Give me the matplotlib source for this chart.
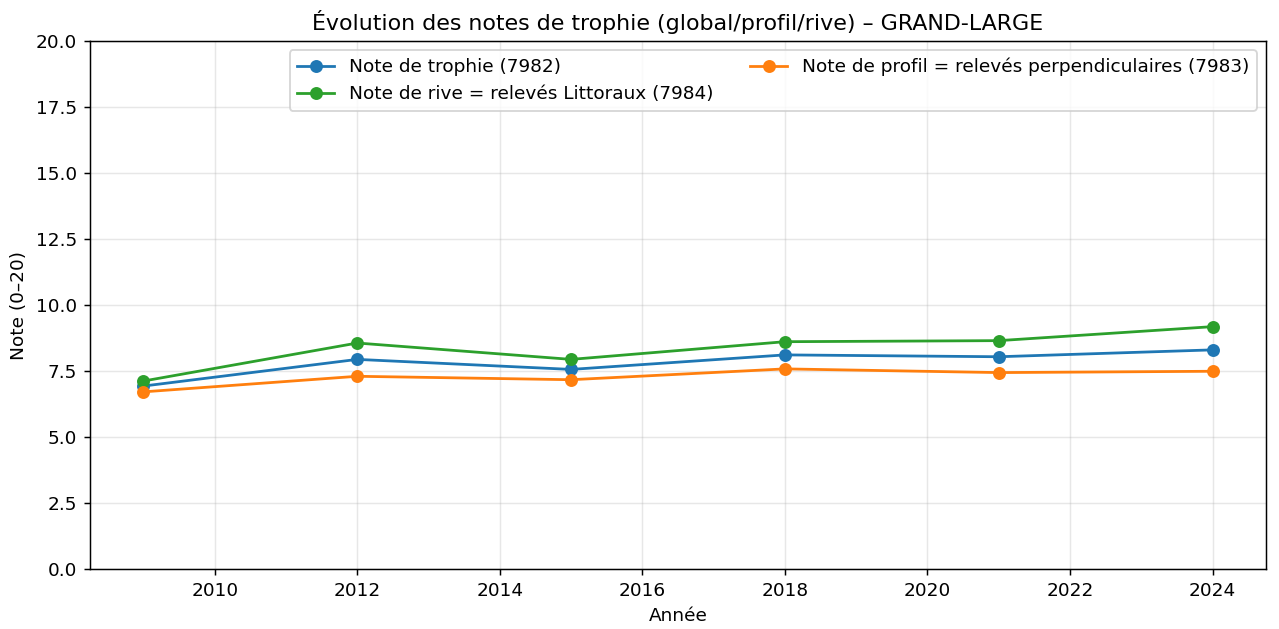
import matplotlib
matplotlib.use('Agg')
import matplotlib.pyplot as plt

years = [2009, 2012, 2015, 2018, 2021, 2024]
note_trophie = [6.93, 7.94, 7.56, 8.11, 8.04, 8.30]
note_profil = [6.71, 7.30, 7.17, 7.58, 7.44, 7.49]
note_rive = [7.12, 8.56, 7.94, 8.61, 8.65, 9.18]

dpi = 133
fig, ax = plt.subplots(figsize=(1279/dpi, 629/dpi), dpi=dpi)
fig.subplots_adjust(left=90/1279, right=1266/1279, top=1-41/629, bottom=1-569/629)

# ordre de tracé = ordre de la légende (2 colonnes)
ax.plot(years, note_trophie, marker='o', color='C0', label='Note de trophie (7982)')
ax.plot(years, note_rive, marker='o', color='C2', label='Note de rive = relevés Littoraux (7984)')
ax.plot(years, note_profil, marker='o', color='C1', label='Note de profil = relevés perpendiculaires (7983)')

ax.set_ylim(0, 20)
ax.set_title('Évolution des notes de trophie (global/profil/rive) – GRAND-LARGE')
ax.set_xlabel('Année')
ax.set_ylabel('Note (0–20)')
ax.grid(True, alpha=0.3)
ax.legend(loc='upper right', ncol=2)

plt.savefig('out.png', dpi=dpi)
